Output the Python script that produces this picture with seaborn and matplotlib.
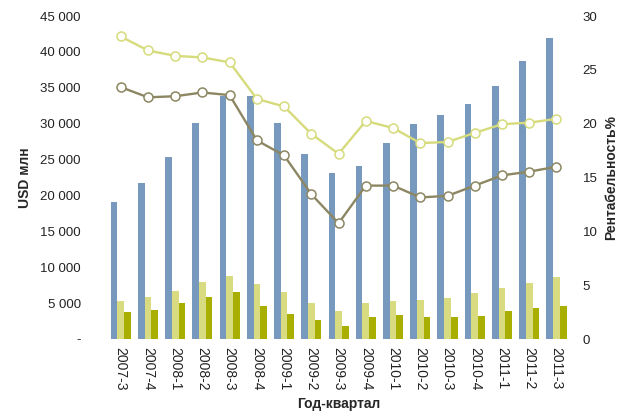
import numpy as np
import pandas as pd
import matplotlib
matplotlib.use("Agg")
import matplotlib.pyplot as plt
from matplotlib.ticker import FuncFormatter, MultipleLocator
import seaborn as sns

quarters = ["2007-3", "2007-4", "2008-1", "2008-2", "2008-3", "2008-4",
            "2009-1", "2009-2", "2009-3", "2009-4", "2010-1", "2010-2",
            "2010-3", "2010-4", "2011-1", "2011-2", "2011-3"]

# bars, USD mln
revenue = [19100, 21700, 25400, 30100, 33900, 33800, 30100, 25800, 23100,
           24100, 27300, 29900, 31200, 32700, 35200, 38700, 41900]
gross = [5300, 5850, 6700, 7950, 8800, 7650, 6550, 5000, 3900,
         5000, 5300, 5450, 5700, 6400, 7100, 7800, 8650]
net = [3770, 4050, 5000, 5850, 6550, 4600, 3500, 2650, 1800,
       3070, 3350, 3070, 3070, 3200, 3900, 4330, 4600]

# lines, %
margin_gross = [28.1, 26.8, 26.3, 26.15, 25.7, 22.3, 21.6, 19.05, 17.2,
                20.25, 19.6, 18.2, 18.3, 19.15, 19.95, 20.1, 20.45]
margin_net = [23.4, 22.45, 22.55, 22.9, 22.65, 18.45, 17.05, 13.45, 10.75,
              14.25, 14.25, 13.15, 13.3, 14.25, 15.2, 15.55, 16.0]

bar_colors = ["#7899BE", "#D9DB80", "#A9AF00"]
line_light = "#D6DB7B"
line_dark = "#8C8762"

sns.set_theme(style="white")
plt.rcParams["font.family"] = ["Liberation Sans", "DejaVu Sans"]

df = pd.DataFrame({
    "quarter": quarters * 3,
    "value": revenue + gross + net,
    "series": ["revenue"] * len(quarters) + ["gross"] * len(quarters) + ["net"] * len(quarters),
})

fig = plt.figure(figsize=(6.19, 4.16), dpi=100)
ax = fig.add_axes([0.173, 0.185, 0.748, 0.7765])

sns.barplot(data=df, x="quarter", y="value", hue="series", palette=bar_colors,
            width=0.74, dodge=True, legend=False, ax=ax, saturation=1,
            linewidth=0, errorbar=None)
ax.set_xlim(-0.5, len(quarters) - 0.5)
ax.set_ylim(0, 45000)
ax.yaxis.set_major_locator(MultipleLocator(5000))
ax.yaxis.set_major_formatter(FuncFormatter(
    lambda v, p: "-" if v == 0 else f"{v:,.0f}".replace(",", " ")))
ax.tick_params(axis="y", labelsize=9.5, pad=19, length=0, colors="#222222")
ax.tick_params(axis="x", labelsize=10, rotation=270, pad=6, length=0, colors="#222222")
ax.set_xlabel("Год-квартал", fontsize=10, fontweight="bold", labelpad=4)
ax.set_ylabel("USD млн", fontsize=10, fontweight="bold", labelpad=6)
for s in ax.spines.values():
    s.set_visible(False)

ax2 = ax.twinx()
x = np.arange(len(quarters))
sns.lineplot(x=x, y=margin_gross, ax=ax2, color=line_light, linewidth=1.7,
             marker="o", markersize=6.5, markerfacecolor="white",
             markeredgecolor=line_light, markeredgewidth=1.1)
sns.lineplot(x=x, y=margin_net, ax=ax2, color=line_dark, linewidth=1.7,
             marker="o", markersize=6.5, markerfacecolor="white",
             markeredgecolor=line_dark, markeredgewidth=1.1)
ax2.set_ylim(0, 30)
ax2.yaxis.set_major_locator(MultipleLocator(5))
ax2.tick_params(axis="y", labelsize=9.5, pad=9, length=0, colors="#222222")
ax2.set_ylabel("Рентабельность%", fontsize=10, fontweight="bold", labelpad=5)
ax2.grid(False)
for s in ax2.spines.values():
    s.set_visible(False)

fig.savefig("out.png", dpi=100)
